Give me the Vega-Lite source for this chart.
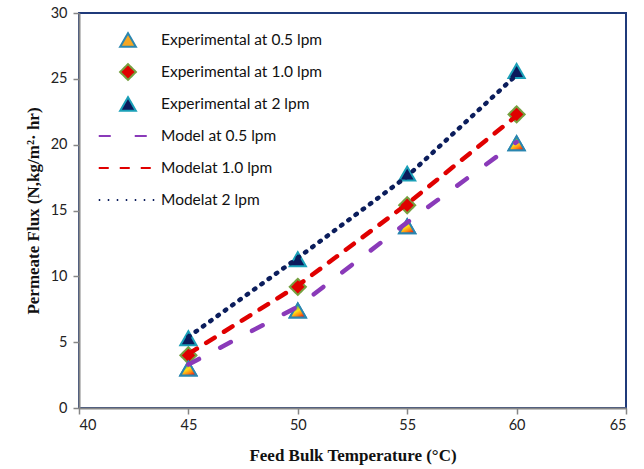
{
  "$schema": "https://vega.github.io/schema/vega-lite/v6.json",
  "autosize": "none",
  "width": 547,
  "height": 395,
  "padding": {"left": 79, "top": 13, "right": 18, "bottom": 61},
  "background": "white",
  "config": {
    "view": {"stroke": "#1F3A7A", "strokeWidth": 2},
    "axis": {
      "grid": false,
      "domainColor": "#868686",
      "domainWidth": 2,
      "tickColor": "#868686",
      "tickWidth": 1.5,
      "tickSize": 6,
      "labelFont": "Lato",
      "labelFontSize": 14.5,
      "labelColor": "#222222",
      "titleFont": "Liberation Serif",
      "titleFontSize": 17,
      "titleFontWeight": "bold",
      "titleColor": "#111111"
    }
  },
  "data": {
    "values": [
      {"T": 45, "flux": 3.0, "series": "Experimental at 0.5 lpm", "kind": "exp"},
      {"T": 50, "flux": 7.4, "series": "Experimental at 0.5 lpm", "kind": "exp"},
      {"T": 55, "flux": 13.8, "series": "Experimental at 0.5 lpm", "kind": "exp"},
      {"T": 60, "flux": 20.1, "series": "Experimental at 0.5 lpm", "kind": "exp"},
      {"T": 45, "flux": 4.0, "series": "Experimental at 1.0 lpm", "kind": "exp"},
      {"T": 50, "flux": 9.2, "series": "Experimental at 1.0 lpm", "kind": "exp"},
      {"T": 55, "flux": 15.4, "series": "Experimental at 1.0 lpm", "kind": "exp"},
      {"T": 60, "flux": 22.3, "series": "Experimental at 1.0 lpm", "kind": "exp"},
      {"T": 45, "flux": 5.3, "series": "Experimental at 2 lpm", "kind": "exp"},
      {"T": 50, "flux": 11.3, "series": "Experimental at 2 lpm", "kind": "exp"},
      {"T": 55, "flux": 17.8, "series": "Experimental at 2 lpm", "kind": "exp"},
      {"T": 60, "flux": 25.6, "series": "Experimental at 2 lpm", "kind": "exp"},
      {"T": 45, "flux": 3.3, "series": "Model at 0.5 lpm", "kind": "model"},
      {"T": 50, "flux": 7.7, "series": "Model at 0.5 lpm", "kind": "model"},
      {"T": 55, "flux": 14.1, "series": "Model at 0.5 lpm", "kind": "model"},
      {"T": 60, "flux": 20.2, "series": "Model at 0.5 lpm", "kind": "model"},
      {"T": 45, "flux": 4.1, "series": "Modelat 1.0 lpm", "kind": "model"},
      {"T": 50, "flux": 9.3, "series": "Modelat 1.0 lpm", "kind": "model"},
      {"T": 55, "flux": 15.5, "series": "Modelat 1.0 lpm", "kind": "model"},
      {"T": 60, "flux": 22.2, "series": "Modelat 1.0 lpm", "kind": "model"},
      {"T": 45, "flux": 5.4, "series": "Modelat 2 lpm", "kind": "model"},
      {"T": 50, "flux": 11.4, "series": "Modelat 2 lpm", "kind": "model"},
      {"T": 55, "flux": 17.6, "series": "Modelat 2 lpm", "kind": "model"},
      {"T": 60, "flux": 25.3, "series": "Modelat 2 lpm", "kind": "model"}
    ]
  },
  "encoding": {
    "x": {
      "field": "T", "type": "quantitative",
      "scale": {"domain": [40, 65], "nice": false, "zero": false},
      "axis": {"values": [40, 45, 50, 55, 60, 65], "title": "Feed Bulk Temperature (°C)", "labelPadding": 4, "titlePadding": 16}
    },
    "y": {
      "field": "flux", "type": "quantitative",
      "scale": {"domain": [0, 30], "nice": false},
      "axis": {"values": [0, 5, 10, 15, 20, 25, 30], "title": "Permeate Flux (N,kg/m²· hr)", "labelPadding": 6, "titlePadding": 8}
    }
  },
  "layer": [
    {
      "transform": [{"filter": "datum.kind === 'exp'"}],
      "mark": {"type": "point", "filled": true, "size": 260, "strokeWidth": 2, "opacity": 1},
      "encoding": {
        "shape": {
          "field": "series", "type": "nominal",
          "scale": {
            "domain": ["Experimental at 0.5 lpm", "Experimental at 1.0 lpm", "Experimental at 2 lpm", "Model at 0.5 lpm", "Modelat 1.0 lpm", "Modelat 2 lpm"],
            "range": ["triangle-up", "diamond", "triangle-up", "M-3.7,0H3.7", "M-3.7,0H3.7", "M-3.7,0H3.7"]
          },
          "legend": {
            "title": null,
            "orient": "none",
            "legendX": 40,
            "legendY": 18,
            "padding": 0,
            "gridAlign": "all",
            "symbolSize": 250,
            "symbolStrokeWidth": 2,
            "labelOffset": 24,
            "labelFont": "Lato",
            "labelFontSize": 15.5,
            "labelColor": "#111111",
            "rowPadding": 8,
            "labelLimit": 300,
            "encode": {
              "symbols": {
                "strokeCap": {"value": "round"},
                "strokeWidth": {"signal": "indexof(datum.value, 'Model') === 0 ? 4.5 : 2"}
              }
            }
          }
        },
        "fill": {
          "field": "series", "type": "nominal",
          "scale": {
            "domain": ["Experimental at 0.5 lpm", "Experimental at 1.0 lpm", "Experimental at 2 lpm", "Model at 0.5 lpm", "Modelat 1.0 lpm", "Modelat 2 lpm"],
            "range": ["#F5A623", "#E00000", "#0B1A5C", "transparent", "transparent", "transparent"]
          }
        },
        "stroke": {
          "field": "series", "type": "nominal",
          "scale": {
            "domain": ["Experimental at 0.5 lpm", "Experimental at 1.0 lpm", "Experimental at 2 lpm", "Model at 0.5 lpm", "Modelat 1.0 lpm", "Modelat 2 lpm"],
            "range": ["#2A86B0", "#76A040", "#1AA0B8", "#8A3AB9", "#E00000", "#0B1D5C"]
          }
        },
        "strokeDash": {
          "field": "series", "type": "nominal",
          "scale": {
            "domain": ["Experimental at 0.5 lpm", "Experimental at 1.0 lpm", "Experimental at 2 lpm", "Model at 0.5 lpm", "Modelat 1.0 lpm", "Modelat 2 lpm"],
            "range": [[1, 0], [1, 0], [1, 0], [12, 24], [10, 11], [1.5, 7.5]]
          }
        }
      }
    },
    {
      "transform": [{"filter": "datum.series === 'Experimental at 0.5 lpm'"}],
      "mark": {
        "type": "point", "shape": "triangle-up", "size": 260, "strokeWidth": 2, "stroke": "#2A86B0", "opacity": 1,
        "fill": {
          "gradient": "linear", "x1": 0.2, "y1": 0, "x2": 0.8, "y2": 1,
          "stops": [
            {"offset": 0, "color": "#1F4FC0"},
            {"offset": 0.3, "color": "#7CC040"},
            {"offset": 0.5, "color": "#FFE21A"},
            {"offset": 0.75, "color": "#FF8A10"},
            {"offset": 1, "color": "#E81010"}
          ]
        }
      }
    },
    {
      "transform": [{"filter": "datum.kind === 'model'"}],
      "mark": {"type": "line", "strokeWidth": 4.5, "strokeCap": "round"},
      "encoding": {
        "stroke": {"field": "series", "type": "nominal"},
        "strokeDash": {"field": "series", "type": "nominal"}
      }
    }
  ]
}
